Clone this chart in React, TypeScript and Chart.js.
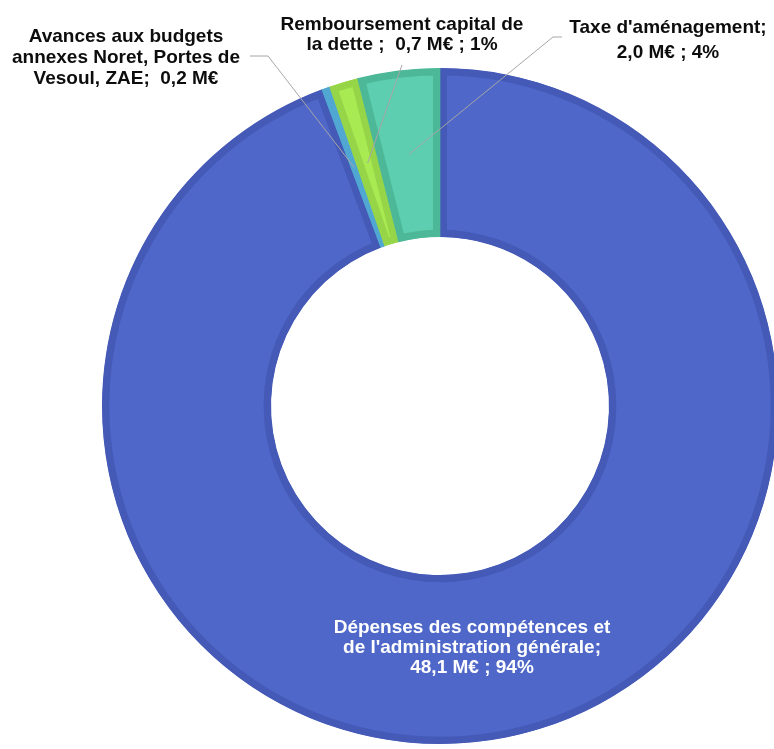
import { useEffect, useRef } from "react";
import { Chart, registerables } from "chart.js";

Chart.register(...registerables);

// ---- Data ----
const categories = [
  "Dépenses des compétences et de l'administration générale",
  "Avances aux budgets annexes Noret, Portes de Vesoul, ZAE",
  "Remboursement capital de la dette",
  "Taxe d'aménagement",
];
const values = [48.1, 0.2, 0.7, 2.0];
const labelLines = [
  ["Dépenses des compétences et", "de l'administration générale;", "48,1 M€ ; 94%"],
  ["Avances aux budgets", "annexes Noret, Portes de", "Vesoul, ZAE;  0,2 M€"],
  ["Remboursement capital de", "la dette ;  0,7 M€ ; 1%"],
  ["Taxe d'aménagement;", "2,0 M€ ; 4%"],
];
const fillColors = ["#4E67C8", "#5BB6E0", "#A7EA52", "#5DCEAF"];
const borderColors = ["#4559B6", "#4FA7D2", "#96D448", "#4DB898"];

// ---- Label layout (positions only) ----
const labelLayout = [
  { x: 472, baselines: [633, 653, 673], color: "#FFFFFF", leader: null as null | number[][] },
  { x: 126, baselines: [42, 63, 84], color: "#0D0D0D", leader: [[250, 56], [268, 56]] },
  { x: 402, baselines: [30, 50], color: "#0D0D0D", leader: [[402, 65]] },
  { x: 668, baselines: [33, 58], color: "#0D0D0D", leader: [[562, 37], [553, 37]] },
];

const labelPlugin = {
  id: "sliceLabels",
  afterDatasetsDraw(chart: any) {
    const ctx = chart.ctx as CanvasRenderingContext2D;
    const meta = chart.getDatasetMeta(0);
    ctx.save();
    // leader lines
    meta.data.forEach((arc: any, i: number) => {
      const lay = labelLayout[i];
      if (!lay.leader) return;
      const p = arc.getProps(["x", "y", "startAngle", "endAngle", "innerRadius", "outerRadius"], true);
      const a = (p.startAngle + p.endAngle) / 2;
      const r = (p.innerRadius + p.outerRadius) / 2;
      const ax = p.x + Math.cos(a) * r;
      const ay = p.y + Math.sin(a) * r;
      ctx.beginPath();
      ctx.strokeStyle = "#A6A6A6";
      ctx.lineWidth = 1;
      lay.leader.forEach((pt, k) => {
        if (k === 0) ctx.moveTo(pt[0], pt[1]);
        else ctx.lineTo(pt[0], pt[1]);
      });
      ctx.lineTo(ax, ay);
      ctx.stroke();
    });
    // texts
    ctx.font = 'bold 19px "Liberation Sans", Arial, sans-serif';
    ctx.textAlign = "center";
    ctx.textBaseline = "alphabetic";
    labelLines.forEach((lines, i) => {
      const lay = labelLayout[i];
      ctx.fillStyle = lay.color;
      lines.forEach((t, k) => ctx.fillText(t, lay.x, lay.baselines[k]));
    });
    ctx.restore();
  },
};

export default function App() {
  const ref = useRef<HTMLCanvasElement | null>(null);
  useEffect(() => {
    if (!ref.current) return;
    const chart = new Chart(ref.current, {
      type: "doughnut",
      data: {
        labels: categories,
        datasets: [
          {
            data: values,
            backgroundColor: fillColors,
            borderColor: borderColors,
            borderWidth: 7,
            borderAlign: "inner",
            borderJoinStyle: "miter",
            hoverOffset: 0,
            offset: 0,
          } as any,
        ],
      },
      options: {
        responsive: false,
        animation: false,
        events: [],
        cutout: "50%",
        rotation: 0,
        layout: { padding: { left: 102, right: 22, top: 68, bottom: 5 } },
        plugins: {
          legend: { display: false },
          tooltip: { enabled: false },
        },
      },
      plugins: [labelPlugin],
    });
    return () => chart.destroy();
  }, []);
  return (
    <div
      style={{
        position: "fixed",
        left: 0,
        top: 0,
        width: 774,
        height: 749,
        overflow: "hidden",
        background: "#FFFFFF",
      }}
    >
      <canvas ref={ref} width={800} height={749} style={{ display: "block" }} />
    </div>
  );
}
